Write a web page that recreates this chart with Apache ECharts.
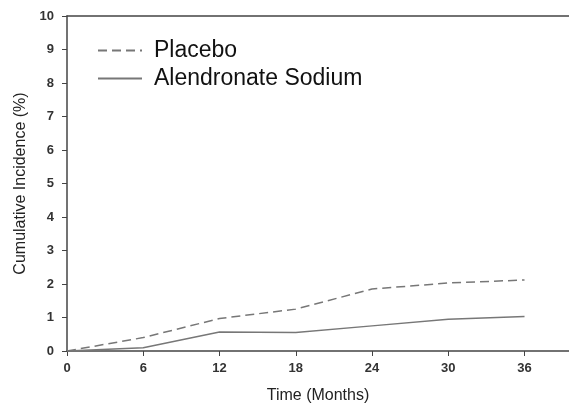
<!DOCTYPE html>
<html><head><meta charset="utf-8">
<script src="https://cdn.jsdelivr.net/npm/echarts@6/dist/echarts.min.js"></script>
<style>html,body{margin:0;padding:0;background:#fff}#c{width:569px;height:403px}</style>
</head><body><div id="c"></div>
<script>
const months = [0, 6, 12, 18, 24, 30, 36];
const placebo = [0, 0.4, 0.97, 1.25, 1.85, 2.03, 2.12];
const alendronate = [0, 0.1, 0.57, 0.55, 0.75, 0.95, 1.03];
const xTicks = [0, 6, 12, 18, 24, 30, 36];
const yTicks = [0, 1, 2, 3, 4, 5, 6, 7, 8, 9, 10];

const chart = echarts.init(document.getElementById('c'));
const pair = (xs, ys) => xs.map((x, i) => [x, ys[i]]);
chart.setOption({
  animation: false,
  backgroundColor: '#fff',
  grid: { left: 67, top: 16, right: 0, bottom: 52, containLabel: false, outerBoundsMode: 'none' },
  legend: {
    left: 97, top: 39, padding: 0, orient: 'vertical', itemGap: 5, itemWidth: 44, itemHeight: 14,
    itemStyle: { opacity: 0 },
    textStyle: { fontFamily: 'Liberation Sans', fontSize: 23, lineHeight: 22, color: '#111', padding: [0, 0, 0, 7] },
    data: ['Placebo', 'Alendronate Sodium']
  },
  xAxis: [{
    type: 'value', min: 0, max: 39.5, interval: 6,
    name: 'Time (Months)', nameLocation: 'middle', nameGap: 37,
    nameTextStyle: { fontFamily: 'Liberation Sans', fontSize: 16, color: '#222' },
    axisLine: { lineStyle: { color: '#444', width: 1.5 } },
    axisTick: { show: true, length: 5, lineStyle: { color: '#444' } },
    splitLine: { show: false },
    axisLabel: { fontFamily: 'Liberation Sans', fontSize: 13, fontWeight: 'bold', color: '#333', margin: 11,
      formatter: v => xTicks.includes(v) ? String(v) : '' }
  }, {
    type: 'value', position: 'top', min: 0, max: 39.5,
    axisLine: { show: true, lineStyle: { color: '#444', width: 1.5 } },
    axisTick: { show: false }, axisLabel: { show: false }, splitLine: { show: false }
  }],
  yAxis: {
    type: 'value', min: 0, max: 10, interval: 1,
    name: 'Cumulative Incidence (%)', nameLocation: 'middle', nameGap: 34,
    nameTextStyle: { fontFamily: 'Liberation Sans', fontSize: 16, color: '#222' },
    axisLine: { show: true, lineStyle: { color: '#444', width: 1.5 } },
    axisTick: { show: true, length: 5, lineStyle: { color: '#444' } },
    splitLine: { show: false },
    axisLabel: { fontFamily: 'Liberation Sans', fontSize: 13, fontWeight: 'bold', color: '#333', margin: 13,
      formatter: v => yTicks.includes(v) ? String(v) : '' }
  },
  series: [
    { name: 'Placebo', type: 'line', data: pair(months, placebo), symbol: 'none',
      lineStyle: { color: '#777', width: 1.5, type: [9, 5] }, itemStyle: { color: '#777' } },
    { name: 'Alendronate Sodium', type: 'line', data: pair(months, alendronate), symbol: 'none',
      lineStyle: { color: '#777', width: 1.5 }, itemStyle: { color: '#777' } }
  ]
});
</script></body></html>
